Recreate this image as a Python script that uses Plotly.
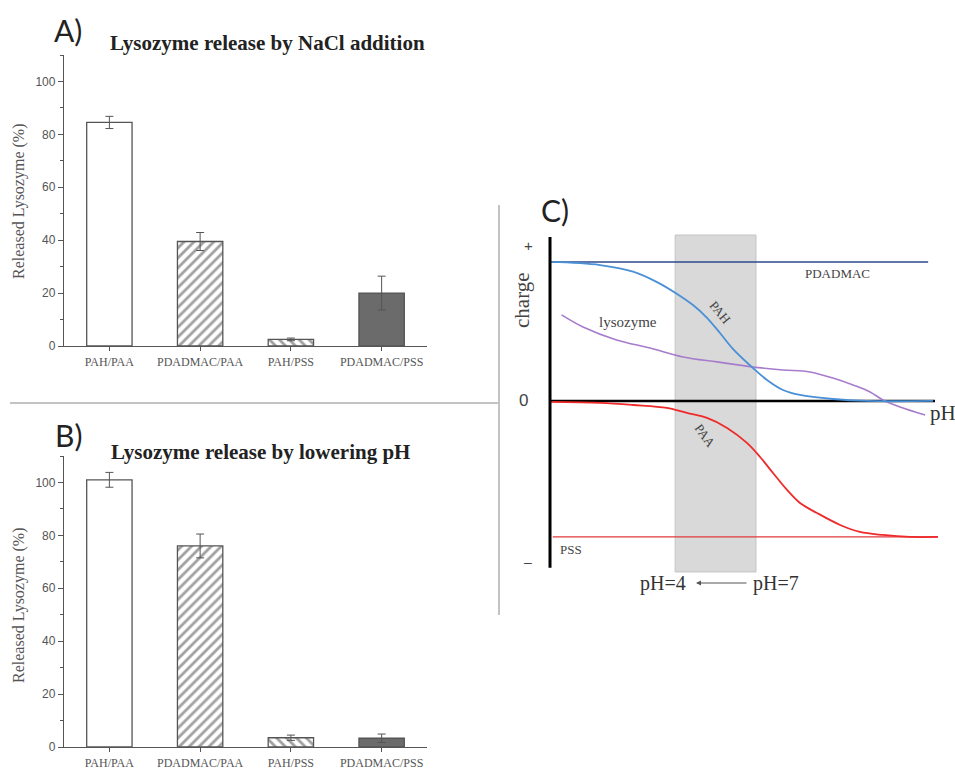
import plotly.graph_objects as go

# ---------------- data ----------------
categories = ["PAH/PAA", "PDADMAC/PAA", "PAH/PSS", "PDADMAC/PSS"]
nacl_release = [84.5, 39.5, 2.5, 20.0]
nacl_err = [2.3, 3.4, 0.5, 6.4]
ph_release = [101.0, 76.0, 3.5, 3.3]
ph_err = [2.8, 4.5, 1.0, 1.6]
y_ticks = [0, 20, 40, 60, 80, 100]

# panel C: schematic charge vs pH (arbitrary units)
pah_x = [0, 1.82, 3.02, 3.89, 4.62, 5.2, 5.7, 6.18, 6.65, 7.38, 7.89, 8.47, 9.09, 10.29, 11.53, 13.93]
pah_y = [1.0, 0.978, 0.93, 0.855, 0.77, 0.69, 0.6, 0.489, 0.375, 0.237, 0.151, 0.079, 0.043, 0.014, 0.0, 0.0]
lyso_x = [0.42, 1.2, 2.42, 3.64, 4.84, 6.07, 7.38, 8.47, 9.45, 10.29, 11.02, 11.64, 12.11, 12.73, 13.64]
lyso_y = [0.619, 0.532, 0.439, 0.381, 0.317, 0.281, 0.245, 0.223, 0.209, 0.165, 0.115, 0.065, 0.007, -0.043, -0.101]
paa_x = [0, 1.82, 3.02, 4.25, 4.98, 5.71, 6.44, 7.16, 7.64, 8.11, 8.62, 9.09, 9.71, 10.55, 11.27, 12.11, 13.09, 14.11]
paa_y = [-0.007, -0.014, -0.029, -0.05, -0.086, -0.122, -0.194, -0.302, -0.403, -0.518, -0.640, -0.734, -0.806, -0.892, -0.942, -0.964, -0.978, -0.978]
pdadmac_x = [0, 13.75]
pdadmac_y = [1.0, 1.0]
pss_x = [0.1, 14.1]
pss_y = [-0.978, -0.978]
window_x = [4.55, 7.49]   # pH 4 -> pH 7 window
window_y = [-1.23, 1.194]

W, H = 955, 772
def fx(p): return p / W
def fy(p): return 1 - p / H

SERIF = "Liberation Serif, Times New Roman, serif"
SANS = "Liberation Sans, Arial, sans-serif"
CAL = "Lato, Open Sans, sans-serif"
GREY = "#555555"

fill_colors = ["white", "white", "white", "#6b6b6b"]
patterns = ["", "/", "\\", ""]

fig = go.Figure()

for vals, errs, xa, ya in [(nacl_release, nacl_err, "x", "y"), (ph_release, ph_err, "x2", "y2")]:
    fig.add_trace(go.Bar(
        x=categories, y=vals, xaxis=xa, yaxis=ya, width=0.5,
        marker=dict(color=fill_colors, line=dict(color=GREY, width=1.3),
                    pattern=dict(shape=patterns, fgcolor="#505050", bgcolor="white",
                                 size=7, solidity=0.4)),
        error_y=dict(type="data", array=errs, visible=True, color=GREY, thickness=1, width=4),
        showlegend=False, hoverinfo="skip"))

# panel C curves
fig.add_trace(go.Scatter(x=pdadmac_x, y=pdadmac_y, mode="lines", line=dict(color="#2c4a8c", width=1.5),
                         xaxis="x3", yaxis="y3", showlegend=False))
fig.add_trace(go.Scatter(x=pss_x, y=pss_y, mode="lines", line=dict(color="#e23b3b", width=1.3),
                         xaxis="x3", yaxis="y3", showlegend=False))
fig.add_trace(go.Scatter(x=lyso_x, y=lyso_y, mode="lines", line=dict(color="#a77ccc", width=1.6, shape="spline"),
                         xaxis="x3", yaxis="y3", showlegend=False))
fig.add_trace(go.Scatter(x=pah_x, y=pah_y, mode="lines", line=dict(color="#4a90d6", width=1.8, shape="spline"),
                         xaxis="x3", yaxis="y3", showlegend=False))
fig.add_trace(go.Scatter(x=paa_x, y=paa_y, mode="lines", line=dict(color="#ee2a2a", width=1.8, shape="spline"),
                         xaxis="x3", yaxis="y3", showlegend=False))

bar_y = dict(range=[0, 110], tickvals=y_ticks, ticks="outside", ticklen=5, tickcolor=GREY,
             showline=True, linecolor=GREY, linewidth=1.3, showgrid=False, zeroline=False,
             tickfont=dict(family=SANS, size=12, color="#555"), automargin=False,
             minor=dict(tickvals=[10, 30, 50, 70, 90, 110], ticks="outside", ticklen=3, tickcolor=GREY))
bar_x = dict(range=[-0.5, 3.5], ticks="outside", ticklen=4, tickcolor=GREY, showline=True,
             linecolor=GREY, linewidth=1.3, showgrid=False, automargin=False,
             tickfont=dict(family=SERIF, size=12, color="#555"))

fig.update_layout(
    width=W, height=H, margin=dict(l=0, r=0, t=0, b=0, autoexpand=False),
    paper_bgcolor="white", plot_bgcolor="white", bargap=0.5,
    xaxis=dict(domain=[fx(64), fx(427)], anchor="y", **bar_x),
    yaxis=dict(domain=[fy(346), fy(55)], anchor="x", **bar_y),
    xaxis2=dict(domain=[fx(64), fx(427)], anchor="y2", **bar_x),
    yaxis2=dict(domain=[fy(747), fy(456)], anchor="x2", **bar_y),
    xaxis3=dict(domain=[fx(540), fx(950)], anchor="y3", range=[-0.364, 14.545], visible=False),
    yaxis3=dict(domain=[fy(575), fy(230)], anchor="x3", range=[-1.252, 1.230], visible=False),
)

shapes = [
    # grey pH window
    dict(type="rect", xref="x3", yref="y3", x0=window_x[0], x1=window_x[1], y0=window_y[0], y1=window_y[1],
         fillcolor="#d9d9d9", line=dict(color="#c4c4c4", width=1), layer="below"),
    # schematic axes
    dict(type="line", xref="x3", yref="y3", x0=0, x1=0, y0=-1.2, y1=1.18, line=dict(color="black", width=3)),
    dict(type="line", xref="x3", yref="y3", x0=0, x1=14.0, y0=0, y1=0, line=dict(color="black", width=2.5),
         layer="below"),
    # separators
    dict(type="line", xref="paper", yref="paper", x0=fx(10), x1=fx(498), y0=fy(403), y1=fy(403),
         line=dict(color="#888", width=1)),
    dict(type="line", xref="paper", yref="paper", x0=fx(499), x1=fx(499), y0=fy(205), y1=fy(615),
         line=dict(color="#888", width=1)),
]
fig.update_layout(shapes=shapes)

ann = []
def pa(text, x, y, size, family=SERIF, color="#333", angle=0):
    ann.append(dict(text=text, x=fx(x), y=fy(y), xref="paper", yref="paper", showarrow=False,
                    xanchor="center", yanchor="middle",
                    font=dict(family=family, size=size, color=color), textangle=angle))
def ca(text, x, y, size, family=SERIF, color="#444", angle=0):
    ann.append(dict(text=text, x=x, y=y, xref="x3", yref="y3", showarrow=False,
                    xanchor="center", yanchor="middle",
                    font=dict(family=family, size=size, color=color), textangle=angle))

pa("A)", 68, 30, 30, family=CAL, color="#222")
pa("B)", 68, 435, 30, family=CAL, color="#222")
pa("C)", 555, 210, 30, family=CAL, color="#222")
pa("<b>Lysozyme release by NaCl addition</b>", 267, 43, 21, color="#222")
pa("<b>Lysozyme release by lowering pH</b>", 260, 452, 21, color="#222")
pa("Released Lysozyme (%)", 19, 201, 16, color="#555", angle=-90)
pa("Released Lysozyme (%)", 19, 605, 16, color="#555", angle=-90)
pa("charge", 522, 300, 21, color="#444", angle=-90)
pa("+", 528, 245, 15, family=SANS, color="#444")
pa("0", 523, 401, 17, family=SANS, color="#444")
pa("–", 528, 562, 14, family=SANS, color="#444")
pa("pH=4", 663, 583, 20, color="#333")
pa("pH=7", 776, 583, 20, color="#333")
ann.append(dict(x=fx(696), y=fy(583), ax=52, ay=0, xref="paper", yref="paper",
                axref="pixel", ayref="pixel", showarrow=True, arrowhead=2, arrowsize=1,
                arrowwidth=1, arrowcolor="#555", text=""))

ca("PDADMAC", 10.44, 0.92, 13)
ca("PAH", 6.2, 0.64, 13, angle=50)
ca("lysozyme", 2.84, 0.568, 15)
ca("PAA", 5.64, -0.245, 13, angle=55)
ca("PSS", 0.75, -1.07, 13)
ca("pH", 14.3, -0.09, 21, color="#333")

fig.update_layout(annotations=ann)
fig.write_html("out.html", config={"displayModeBar": False},
               post_script="document.body.style.margin='0';")
